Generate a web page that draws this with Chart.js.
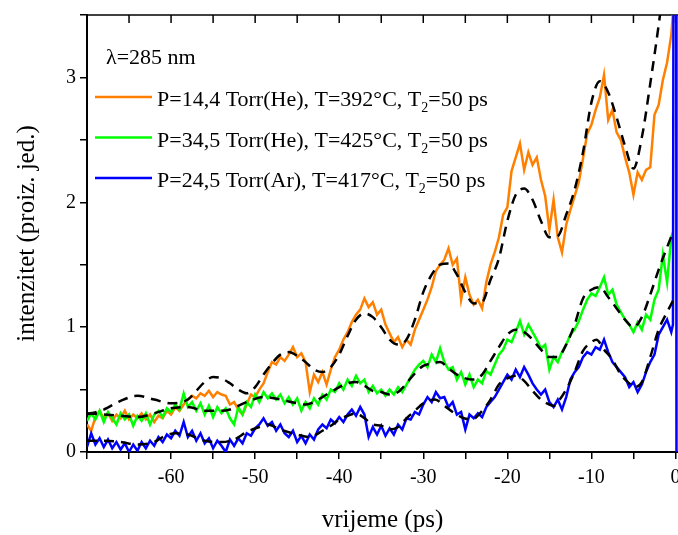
<!DOCTYPE html>
<html><head><meta charset="utf-8">
<script src="https://cdn.jsdelivr.net/npm/chart.js@4"></script>
<style>html,body{margin:0;padding:0;background:#fff}#wrap{width:678px;height:535px}</style>
</head><body><div id="wrap"><canvas id="c" width="678" height="535"></canvas></div>
<script>
// time grid (ps) for the measured traces
const times = [-70,-69.5,-69,-68.5,-68,-67.5,-67,-66.5,-66,-65.5,
-65,-64.5,-64,-63.5,-63,-62.5,-62,-61.5,-61,-60.5,
-60,-59.5,-59,-58.5,-58,-57.5,-57,-56.5,-56,-55.5,
-55,-54.5,-54,-53.5,-53,-52.5,-52,-51.5,-51,-50.5,
-50,-49.5,-49,-48.5,-48,-47.5,-47,-46.5,-46,-45.5,
-45,-44.5,-44,-43.5,-43,-42.5,-42,-41.5,-41,-40.5,
-40,-39.5,-39,-38.5,-38,-37.5,-37,-36.5,-36,-35.5,
-35,-34.5,-34,-33.5,-33,-32.5,-32,-31.5,-31,-30.5,
-30,-29.5,-29,-28.5,-28,-27.5,-27,-26.5,-26,-25.5,
-25,-24.5,-24,-23.5,-23,-22.5,-22,-21.5,-21,-20.5,
-20,-19.5,-19,-18.5,-18,-17.5,-17,-16.5,-16,-15.5,
-15,-14.5,-14,-13.5,-13,-12.5,-12,-11.5,-11,-10.5,
-10,-9.5,-9,-8.5,-8,-7.5,-7,-6.5,-6,-5.5,
-5,-4.5,-4,-3.5,-3,-2.5,-2,-1.5,-1,-0.5];

const orangeVals = [0.22,0.17,0.28,0.33,0.27,0.31,0.25,0.30,0.27,0.33,
0.26,0.30,0.27,0.31,0.26,0.30,0.24,0.29,0.27,0.33,
0.30,0.36,0.33,0.38,0.42,0.45,0.43,0.47,0.45,0.49,
0.44,0.48,0.46,0.45,0.38,0.40,0.34,0.30,0.38,0.46,
0.44,0.50,0.55,0.64,0.72,0.70,0.76,0.73,0.78,0.84,
0.76,0.79,0.72,0.48,0.62,0.56,0.64,0.54,0.66,0.76,
0.82,0.90,0.96,1.04,1.10,1.14,1.23,1.16,1.20,1.10,
1.14,1.02,0.95,0.88,0.92,0.84,0.90,0.86,0.98,1.06,
1.14,1.22,1.32,1.45,1.50,1.54,1.63,1.50,1.55,1.22,
1.40,1.26,1.18,1.22,1.15,1.36,1.50,1.60,1.72,1.90,
1.96,2.25,2.36,2.47,2.26,2.40,2.30,2.36,2.18,2.05,
1.78,2.02,1.72,1.60,1.82,1.94,2.05,2.16,2.35,2.55,
2.62,2.74,2.84,3.02,2.66,2.74,2.56,2.50,2.36,2.24,
2.06,2.24,2.18,2.26,2.28,2.70,2.78,2.98,3.12,3.34];
const orangeTailT = [-0.2];
const orangeTailV = [3.6];

const greenVals = [0.25,0.31,0.26,0.33,0.24,0.32,0.27,0.22,0.31,0.26,
0.30,0.21,0.29,0.25,0.31,0.22,0.30,0.33,0.28,0.35,
0.32,0.38,0.34,0.47,0.36,0.40,0.33,0.39,0.30,0.37,
0.28,0.36,0.31,0.35,0.27,0.22,0.36,0.30,0.40,0.36,
0.46,0.40,0.48,0.43,0.47,0.42,0.46,0.39,0.44,0.38,
0.43,0.33,0.40,0.35,0.43,0.38,0.46,0.42,0.50,0.48,
0.55,0.50,0.58,0.53,0.61,0.55,0.58,0.48,0.53,0.47,
0.50,0.45,0.50,0.46,0.52,0.48,0.54,0.60,0.66,0.70,
0.73,0.68,0.78,0.72,0.83,0.72,0.66,0.68,0.58,0.64,
0.54,0.62,0.52,0.58,0.55,0.65,0.62,0.70,0.78,0.82,
0.90,0.88,0.96,1.05,0.94,1.02,0.96,0.90,0.83,0.86,
0.66,0.76,0.72,0.80,0.86,0.94,0.98,1.05,1.14,1.22,
1.27,1.25,1.32,1.40,1.26,1.30,1.18,1.12,1.06,1.02,
0.96,1.04,0.98,1.10,1.06,1.22,1.30,1.58,1.36,1.72];
const greenTailT = [-0.3];
const greenTailV = [1.76];

const blueVals = [0.04,0.15,0.06,0.11,0.04,0.10,0.03,0.08,0.02,0.07,
0.00,0.06,0.01,0.08,0.03,0.09,0.05,0.12,0.08,0.14,
0.11,0.17,0.13,0.24,0.12,0.17,0.09,0.15,0.07,0.11,
0.03,0.09,0.05,0.00,0.10,0.05,0.11,0.07,0.15,0.13,
0.19,0.22,0.27,0.21,0.24,0.17,0.22,0.15,0.12,0.17,
0.08,0.13,0.07,0.14,0.10,0.18,0.22,0.19,0.26,0.23,
0.28,0.24,0.30,0.34,0.29,0.36,0.30,0.12,0.20,0.14,
0.21,0.13,0.19,0.14,0.22,0.18,0.27,0.26,0.32,0.30,
0.38,0.44,0.40,0.48,0.43,0.44,0.36,0.40,0.30,0.32,
0.18,0.30,0.27,0.31,0.28,0.36,0.40,0.44,0.50,0.56,
0.62,0.58,0.66,0.60,0.68,0.62,0.55,0.50,0.46,0.50,
0.40,0.36,0.42,0.34,0.44,0.58,0.64,0.68,0.76,0.80,
0.78,0.84,0.82,0.90,0.80,0.72,0.68,0.64,0.60,0.52,
0.56,0.48,0.54,0.64,0.72,0.78,0.94,1.00,1.06,0.96];
const blueTailT = [-0.3,-0.22,0.08,0.12];
const blueTailV = [1.02,4.5,4.5,0.0];

// fitted (dashed) curves
const fitOrangeT = [-70,-68,-66,-64,-62,-60,-58,-57,-56,-55,-54,-53,-52,-51,-50,-49,-48,-47,-46,-45,-44,-43,-42,-41,-40,-39,-38,-37,-36,-35,-34,-33,-32,-31,-30,-29,-28,-27,-26,-25,-24,-23,-22,-21,-20,-19,-18,-17,-16,-15,-14,-13,-12,-11,-10,-9,-8,-7,-6,-5,-4,-3,-2,-1];
const fitOrangeV = [0.30,0.34,0.41,0.45,0.42,0.39,0.42,0.49,0.56,0.60,0.59,0.55,0.50,0.47,0.52,0.62,0.71,0.78,0.80,0.77,0.72,0.66,0.64,0.68,0.78,0.93,1.06,1.11,1.08,1.00,0.90,0.86,0.90,1.06,1.28,1.42,1.50,1.51,1.42,1.28,1.19,1.20,1.38,1.55,1.85,2.06,2.11,2.02,1.85,1.72,1.73,1.90,2.10,2.40,2.80,2.97,2.88,2.68,2.45,2.27,2.52,2.95,3.42,3.95];

const fitGreenT = [-70,-68,-66,-64,-62,-60,-58,-56,-54,-53,-51,-49,-47,-45,-44,-43,-42,-40.5,-39,-38,-37,-36,-35,-34,-33,-32,-31,-30,-29,-28,-27,-26,-25,-24,-23,-22,-21,-20,-19,-18,-17,-16,-15,-14,-13,-12,-11,-10,-9,-8,-7,-6,-5,-4,-3,-2,-1,-0.3];
const fitGreenV = [0.31,0.30,0.29,0.28,0.31,0.35,0.36,0.33,0.33,0.34,0.40,0.44,0.42,0.39,0.38,0.40,0.44,0.50,0.55,0.56,0.53,0.49,0.48,0.46,0.48,0.55,0.63,0.69,0.71,0.72,0.67,0.62,0.59,0.58,0.62,0.73,0.84,0.94,0.98,0.96,0.90,0.82,0.76,0.76,0.86,1.02,1.23,1.30,1.32,1.24,1.15,1.06,1.00,1.08,1.26,1.46,1.64,1.76];

const fitBlueT = [-70,-68,-66,-64,-62,-61,-59.5,-58,-56,-54,-52.5,-51,-49.5,-48.5,-47,-45,-43.5,-42,-41,-40,-39,-38,-37,-36,-35,-34,-33,-32,-31,-30,-28.6,-27.5,-26.5,-25.5,-24.2,-23,-22,-21,-20,-19,-18,-17,-16,-15,-14.5,-14,-13,-12,-11,-10,-9.4,-8.5,-7.5,-6.5,-5.5,-5,-4,-3,-2,-1,-0.3];
const fitBlueV = [0.09,0.09,0.08,0.06,0.08,0.12,0.15,0.14,0.09,0.08,0.10,0.16,0.20,0.22,0.18,0.14,0.12,0.17,0.21,0.26,0.29,0.31,0.27,0.22,0.21,0.18,0.20,0.27,0.33,0.39,0.42,0.37,0.32,0.28,0.26,0.33,0.42,0.54,0.59,0.61,0.57,0.49,0.42,0.38,0.37,0.40,0.50,0.64,0.81,0.88,0.90,0.82,0.74,0.62,0.55,0.52,0.56,0.76,0.98,1.12,1.21];

const legendTitle = 'λ=285 nm';
const legendRows = [
  ['P=14,4 Torr(He), T=392°C, T', '2', '=50 ps'],
  ['P=34,5 Torr(He), T=425°C, T', '2', '=50 ps'],
  ['P=24,5 Torr(Ar), T=417°C, T', '2', '=50 ps']
];
const colors = ['#FF8000', '#00FF00', '#0000FF'];

function pts(xs, ys) { return xs.map((x, i) => ({x: x, y: ys[i]})); }

const SERIF = '"Liberation Serif", "DejaVu Serif", serif';

const framePlugin = {
  id: 'frame',
  beforeDatasetsDraw(chart) {
    const {ctx, chartArea: a, scales: {x}} = chart;
    ctx.save();
    ctx.strokeStyle = '#000';
    ctx.lineWidth = 1.6;
    ctx.beginPath(); ctx.moveTo(a.left - 1, a.top); ctx.lineTo(a.right, a.top); ctx.stroke();
    ctx.lineWidth = 1.5;
    x.ticks.forEach(t => {
      const px = x.getPixelForValue(t.value);
      if (px <= a.left + 1) return;
      ctx.beginPath(); ctx.moveTo(px, a.top); ctx.lineTo(px, a.top + 8); ctx.stroke();
    });
    ctx.restore();
  },
  afterDraw(chart) {
    const {ctx} = chart;
    ctx.save();
    ctx.fillStyle = '#000';
    ctx.textBaseline = 'alphabetic';
    ctx.font = '22px ' + SERIF;
    ctx.fillText(legendTitle, 106, 64);
    const lineY = [97, 137.5, 178];
    const baseY = [106, 146.5, 187];
    legendRows.forEach((parts, i) => {
      ctx.strokeStyle = colors[i];
      ctx.lineWidth = 2.5;
      ctx.beginPath(); ctx.moveTo(95, lineY[i]); ctx.lineTo(152, lineY[i]); ctx.stroke();
      let xx = 157;
      ctx.font = '22px ' + SERIF;
      ctx.fillText(parts[0], xx, baseY[i]);
      xx += ctx.measureText(parts[0]).width;
      ctx.font = '14px ' + SERIF;
      ctx.fillText(parts[1], xx, baseY[i] + 6);
      xx += ctx.measureText(parts[1]).width;
      ctx.font = '22px ' + SERIF;
      ctx.fillText(parts[2], xx, baseY[i]);
    });
    ctx.restore();
  }
};

Chart.defaults.color = '#000';

const noisy = (label, xs, ys, tx, ty, col, ord) => ({
  label: label,
  data: pts(xs.concat(tx), ys.concat(ty)),
  borderColor: col, backgroundColor: col,
  borderWidth: 2.5, pointRadius: 0, tension: 0, order: ord
});
const fit = (label, xs, ys) => ({
  label: label,
  data: pts(xs, ys),
  borderColor: '#000', backgroundColor: '#000',
  borderWidth: 2.5, borderDash: [10, 7], pointRadius: 0,
  cubicInterpolationMode: 'monotone', order: 0
});

new Chart(document.getElementById('c'), {
  type: 'line',
  data: {
    datasets: [
      fit('fit1', fitOrangeT, fitOrangeV),
      fit('fit2', fitGreenT, fitGreenV),
      fit('fit3', fitBlueT, fitBlueV),
      noisy('He 14,4', times, orangeVals, orangeTailT, orangeTailV, colors[0], 3),
      noisy('He 34,5', times, greenVals, greenTailT, greenTailV, colors[1], 2),
      noisy('Ar 24,5', times, blueVals, blueTailT, blueTailV, colors[2], 1)
    ]
  },
  options: {
    responsive: false,
    animation: false,
    devicePixelRatio: 1,
    layout: {padding: {top: 15, right: 0, bottom: 0, left: 0}},
    plugins: {legend: {display: false}, tooltip: {enabled: false}},
    scales: {
      x: {
        type: 'linear', position: 'bottom', min: -70, max: 0.3,
        border: {display: true, color: '#000', width: 2},
        grid: {drawOnChartArea: false, drawTicks: true, tickLength: 7, color: '#000', lineWidth: 1.5},
        ticks: {
          stepSize: 5, includeBounds: false, autoSkip: false, maxRotation: 0, padding: 7,
          color: '#000', font: {family: SERIF, size: 20},
          callback: v => (Math.abs(v % 10) < 1e-9 && v > -70) ? String(v) : ''
        },
        title: {display: true, text: 'vrijeme (ps)', color: '#000', font: {family: SERIF, size: 25}, padding: {top: 0, bottom: 0}},
        afterFit: s => { s.height = 83; s.paddingLeft = 0; s.paddingRight = 0; }
      },
      y: {
        type: 'linear', position: 'left', min: 0, max: 3.5,
        border: {display: true, color: '#000', width: 2},
        grid: {drawOnChartArea: false, drawTicks: true, tickLength: 7, color: '#000', lineWidth: 1.5},
        ticks: {
          stepSize: 0.5, includeBounds: false, padding: 4,
          color: '#000', font: {family: SERIF, size: 20},
          callback: v => Number.isInteger(v) ? String(v) : ''
        },
        title: {display: true, text: 'intenzitet (proiz. jed.)', color: '#000', font: {family: SERIF, size: 25}, padding: {top: 12, bottom: 0}},
        afterFit: s => { s.width = 87; s.paddingTop = 0; s.paddingBottom = 0; }
      }
    }
  },
  plugins: [framePlugin]
});
</script>
</body></html>
